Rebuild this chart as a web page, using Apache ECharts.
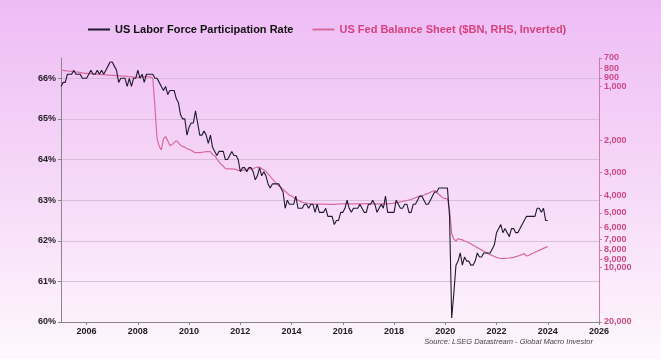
<!DOCTYPE html>
<html><head><meta charset="utf-8">
<script src="https://cdn.jsdelivr.net/npm/echarts@6/dist/echarts.min.js"></script>
<style>html,body{margin:0;padding:0;}#c{width:661px;height:359px;}</style>
</head><body><div id="c"></div>
<script>
const startYear = 2005; // monthly data from Jan 2005 to Jan 2024
const lfpr = [
65.8,65.9,65.9,66.1,66.1,66.1,66.2,66.1,66.1,66.1,66.0,66.0,
66.0,66.1,66.2,66.1,66.1,66.2,66.1,66.2,66.1,66.2,66.3,66.4,
66.4,66.3,66.2,65.9,66.0,66.0,66.0,65.8,66.0,65.8,66.0,66.0,
66.2,66.0,66.1,65.9,66.1,66.1,66.1,66.1,66.0,66.0,65.9,65.8,
65.7,65.8,65.6,65.7,65.7,65.7,65.5,65.4,65.1,65.0,65.0,64.6,
64.8,64.9,64.9,65.2,64.9,64.6,64.6,64.7,64.6,64.4,64.6,64.3,
64.2,64.1,64.2,64.2,64.2,64.0,64.0,64.1,64.2,64.1,64.1,64.0,
63.7,63.8,63.8,63.7,63.8,63.8,63.7,63.5,63.6,63.8,63.6,63.7,
63.6,63.4,63.3,63.4,63.4,63.4,63.4,63.3,63.2,62.8,63.0,62.9,
62.9,62.9,63.1,62.8,62.8,62.8,62.9,62.9,62.8,62.9,62.9,62.7,
62.9,62.7,62.7,62.7,62.8,62.6,62.6,62.6,62.4,62.5,62.5,62.7,
62.7,62.8,63.0,62.8,62.7,62.8,62.8,62.8,62.9,62.8,62.7,62.7,
62.9,62.9,63.0,62.9,62.7,62.8,62.9,62.8,63.1,62.7,62.7,62.7,
62.7,63.0,62.9,62.8,62.8,62.9,62.9,62.7,62.7,62.9,62.9,63.0,
63.1,63.1,63.0,62.9,62.9,63.0,63.1,63.2,63.2,63.3,63.3,63.3,
63.3,63.3,62.6,60.1,60.7,61.4,61.5,61.7,61.4,61.6,61.5,61.5,
61.4,61.4,61.5,61.7,61.6,61.6,61.7,61.7,61.7,61.7,61.8,61.9,
62.2,62.3,62.4,62.2,62.3,62.2,62.1,62.3,62.3,62.2,62.2,62.3,
62.4,62.5,62.6,62.6,62.6,62.6,62.6,62.8,62.8,62.7,62.8,62.5,
62.5
];
const fedBS = [
818,820,822,826,828,830,833,836,838,842,846,850,
850,852,853,855,857,860,862,864,866,868,870,872,
872,873,875,877,878,880,882,885,888,890,892,894,
895,893,890,887,885,888,890,905,1300,1950,2150,2250,
1950,1900,2000,2130,2100,2050,2000,2050,2120,2150,2170,2220,
2230,2260,2300,2330,2330,2330,2320,2310,2300,2300,2300,2390,
2420,2520,2620,2700,2760,2850,2860,2860,2860,2870,2880,2920,
2920,2920,2900,2880,2850,2870,2850,2820,2800,2810,2850,2900,
2950,3050,3150,3250,3350,3450,3550,3620,3700,3800,3900,4000,
4030,4110,4190,4250,4310,4370,4400,4420,4440,4460,4470,4480,
4480,4480,4480,4480,4480,4490,4490,4490,4490,4480,4470,4460,
4460,4460,4460,4460,4460,4460,4460,4460,4460,4460,4450,4450,
4460,4460,4460,4460,4460,4460,4460,4460,4460,4460,4450,4440,
4420,4400,4380,4350,4330,4300,4280,4250,4220,4170,4130,4080,
4060,4040,3990,3940,3900,3850,3800,3770,3880,3950,4050,4150,
4170,4170,4800,6500,7000,7150,6950,7000,7050,7150,7200,7320,
7400,7550,7650,7780,7900,8000,8150,8250,8400,8500,8600,8700,
8800,8870,8920,8950,8920,8900,8870,8830,8800,8720,8650,8580,
8480,8400,8650,8600,8450,8350,8250,8150,8050,7950,7850,7750,
7680
];
const yearTicks = [2006,2008,2010,2012,2014,2016,2018,2020,2022,2024,2026];
const leftTicks = [60,61,62,63,64,65,66];
const rightTicks = [700,800,900,1000,2000,3000,4000,5000,6000,7000,8000,9000,10000,20000];
const seriesNames = ['US Labor Force Participation Rate','US Fed Balance Sheet ($BN, RHS, Inverted)'];
const sourceText = 'Source: LSEG Datastream - Global Macro Investor';

const xs = lfpr.map((_, i) => startYear + i / 12);
const font = '"Liberation Sans",Arial,sans-serif';
const chart = echarts.init(document.getElementById('c'));
chart.setOption({
  animation: false,
  backgroundColor: new echarts.graphic.LinearGradient(0,0,0,1,[
    {offset:0,color:'#eebcf5'},{offset:0.5,color:'#f6d8f8'},{offset:1,color:'#fef8fd'}]),
  legend: {
    top: 19, left: 83, itemGap: 19, itemWidth: 22, itemHeight: 2, icon: 'rect',
    data: [
      {name: seriesNames[0], textStyle:{color:'#111'}},
      {name: seriesNames[1], textStyle:{color:'#d9427f'}}
    ],
    textStyle: {fontFamily: font, fontWeight: 'bold', fontSize: 11}
  },
  grid: {left: 61, right: 62, top: 58, bottom: 37, containLabel: false},
  xAxis: {
    type: 'value', min: 2005, max: 2026,
    axisLine: {show: true, lineStyle: {color: '#888', width: 1}},
    axisTick: {show: true, customValues: yearTicks, length: 3, lineStyle:{color:'#888'}},
    axisLabel: {customValues: yearTicks, formatter: v => String(v), color: '#222', fontFamily: font, fontWeight: 'bold', fontSize: 9, margin: 5},
    splitLine: {show: false}
  },
  yAxis: [
    {
      type: 'value', min: 60, max: 66.5, interval: 1, position: 'left',
      axisLine: {show: true, lineStyle: {color: '#888'}},
      axisTick: {show: true, customValues: leftTicks, length: 3, lineStyle:{color:'#888'}},
      axisLabel: {customValues: leftTicks, formatter: v => v + '%', color: '#222', fontFamily: font, fontWeight: 'bold', fontSize: 9, margin: 5},
      splitLine: {show: true, lineStyle: {color: '#cfb6d3', width: 0.8}}
    },
    {
      type: 'log', logBase: 10, min: 700, max: 20000, inverse: true, position: 'right',
      axisLine: {show: true, lineStyle: {color: '#d47aa8'}},
      axisTick: {show: true, customValues: rightTicks, length: 3, lineStyle:{color:'#d47aa8'}},
      axisLabel: {customValues: rightTicks, formatter: v => Number(v).toLocaleString('en-US'), color: '#cc4a86', fontFamily: font, fontWeight: 'bold', fontSize: 9, margin: 5},
      splitLine: {show: false}
    }
  ],
  series: [
    {
      name: seriesNames[0], type: 'line', yAxisIndex: 0, symbol: 'none', z: 3,
      data: lfpr.map((v, i) => [xs[i], v]),
      lineStyle: {color: '#1d1a2c', width: 1.1}, itemStyle: {color: '#1d1a2c'}
    },
    {
      name: seriesNames[1], type: 'line', yAxisIndex: 1, symbol: 'none', z: 2,
      data: fedBS.map((v, i) => [xs[i], v]),
      lineStyle: {color: '#d9699d', width: 1.2}, itemStyle: {color: '#d9699d'}
    }
  ],
  graphic: [{
    type: 'text', right: 68, top: 338,
    style: {text: sourceText, font: 'italic 7.5px "Liberation Sans",Arial,sans-serif', fill: '#444'}
  }]
});
</script></body></html>
